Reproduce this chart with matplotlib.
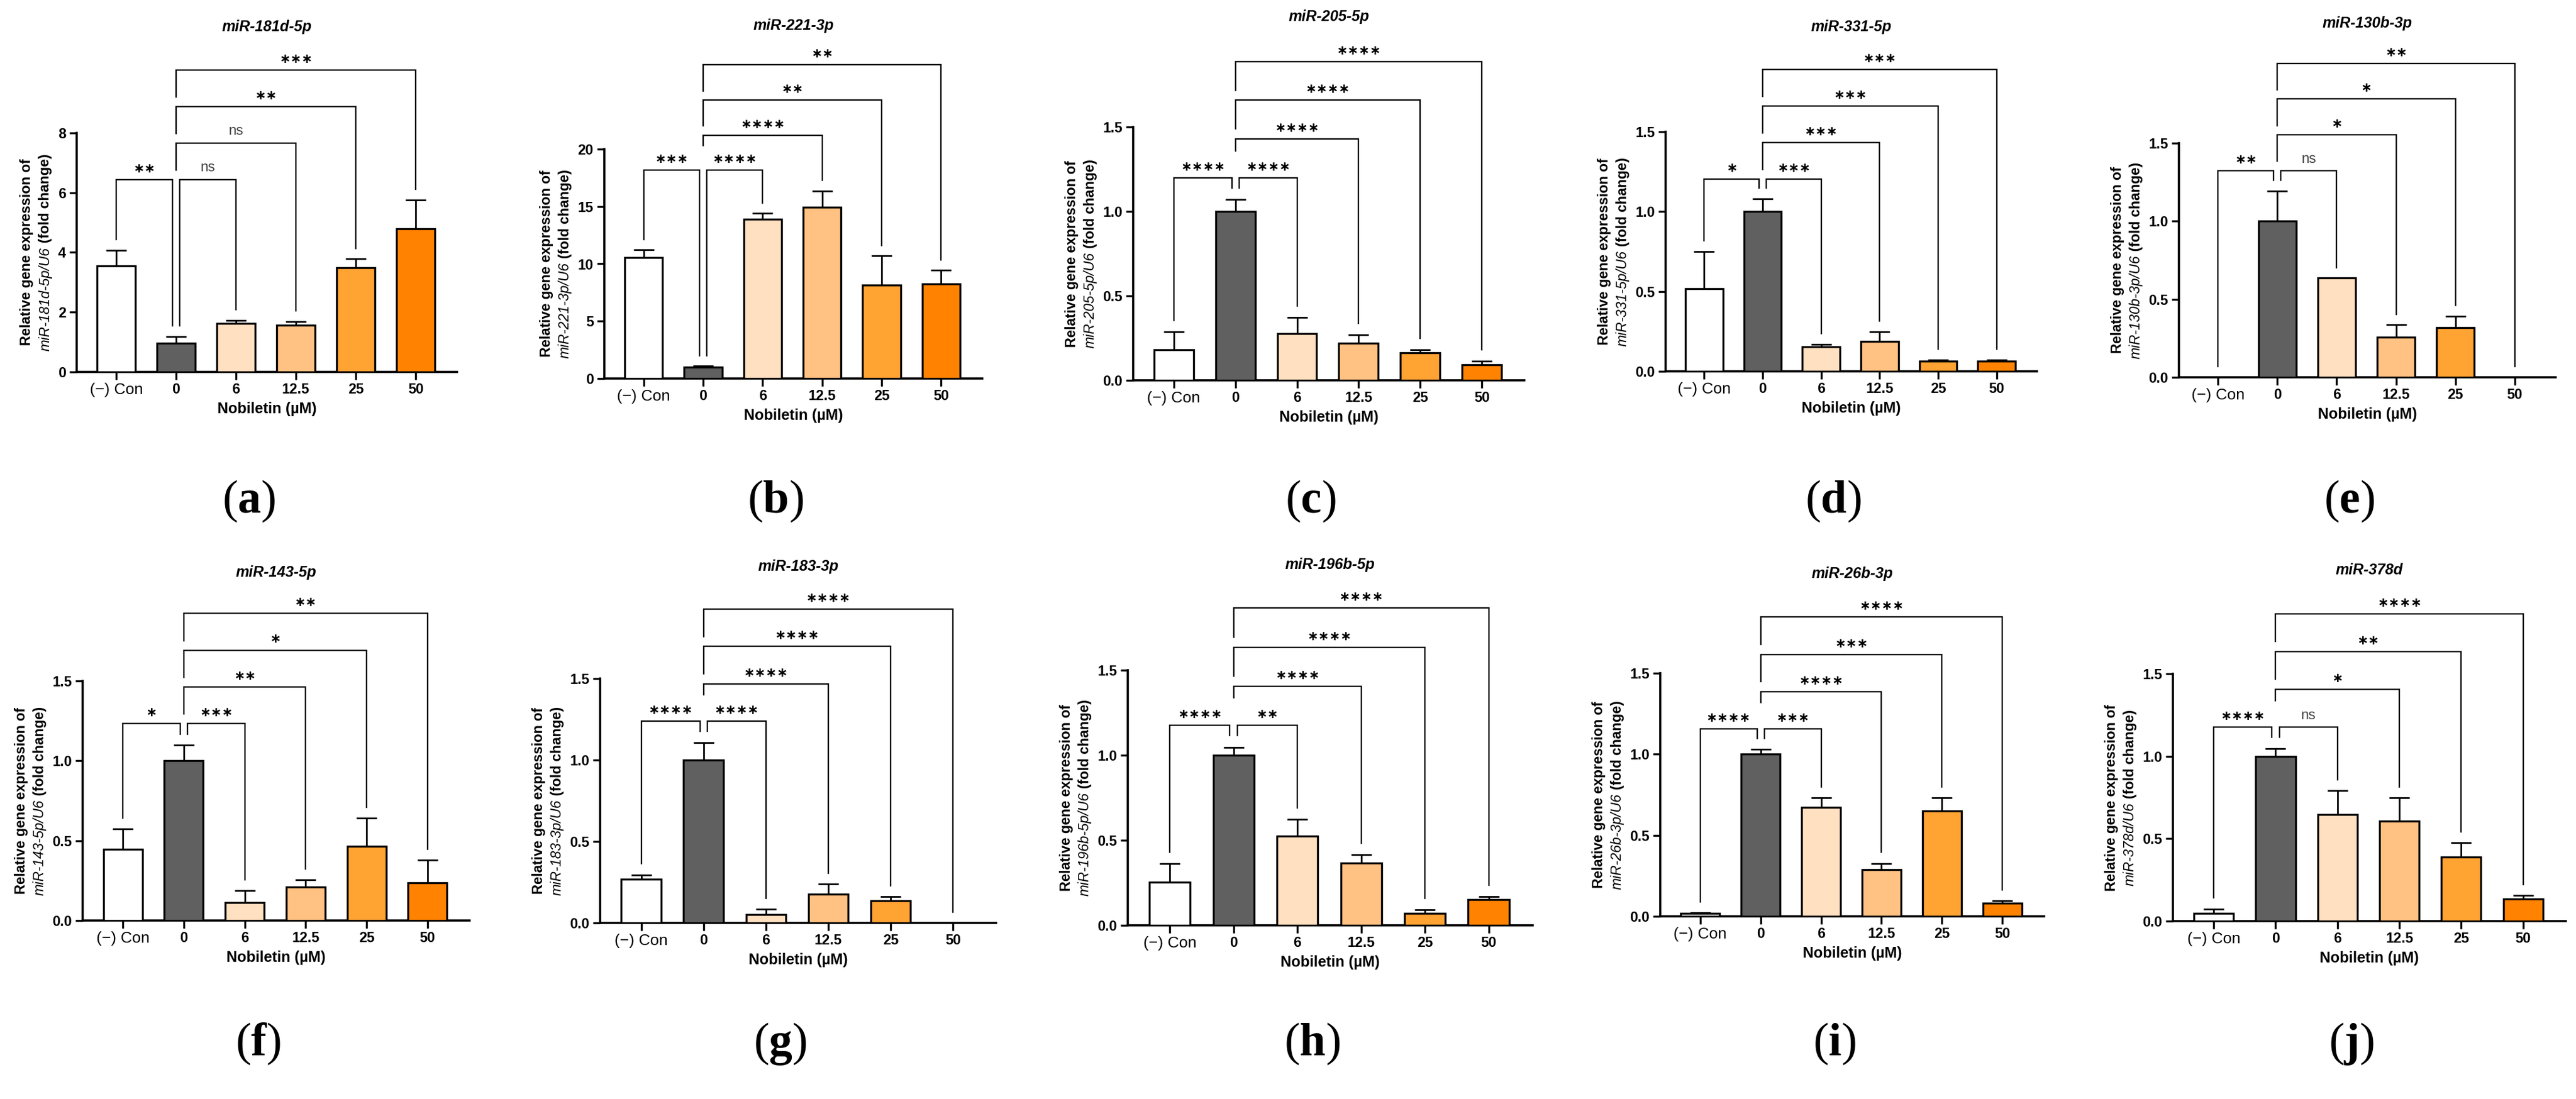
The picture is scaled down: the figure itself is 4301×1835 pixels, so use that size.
import matplotlib.pyplot as plt
import numpy as np

plt.rcParams['font.family'] = ['Liberation Sans', 'DejaVu Sans']
plt.rcParams['mathtext.fontset'] = 'custom'
plt.rcParams['mathtext.bf'] = 'Liberation Serif:bold'
plt.rcParams['mathtext.rm'] = 'Liberation Serif'

categories = ['(−) Con', '0', '6', '12.5', '25', '50']
bar_colors = ['#ffffff', '#606060', '#ffe0c0', '#ffc283', '#ffa333', '#ff8300']
tags = ['a', 'b', 'c', 'd', 'e', 'f', 'g', 'h', 'i', 'j']

mirnas = ['miR-181d-5p', 'miR-221-3p', 'miR-205-5p', 'miR-331-5p', 'miR-130b-3p',
          'miR-143-5p', 'miR-183-3p', 'miR-196b-5p', 'miR-26b-3p', 'miR-378d']

# mean and upper error (fold change) per miRNA, order as categories
mir181d_mean = [3.55, 0.97, 1.62, 1.57, 3.48, 4.80]
mir181d_err = [0.52, 0.21, 0.11, 0.12, 0.30, 0.95]
mir221_mean = [10.56, 1.0, 13.9, 14.96, 8.14, 8.23]
mir221_err = [0.66, 0.08, 0.5, 1.4, 2.56, 1.2]
mir205_mean = [0.18, 1.0, 0.277, 0.219, 0.164, 0.092]
mir205_err = [0.107, 0.07, 0.096, 0.051, 0.018, 0.023]
mir331_mean = [0.517, 1.0, 0.152, 0.188, 0.063, 0.063]
mir331_err = [0.234, 0.08, 0.015, 0.06, 0.01, 0.01]
mir130b_mean = [np.nan, 1.0, 0.636, 0.257, 0.319, np.nan]
mir130b_err = [np.nan, 0.195, 0.0, 0.08, 0.073, np.nan]
mir143_mean = [0.448, 1.0, 0.113, 0.21, 0.465, 0.236]
mir143_err = [0.126, 0.10, 0.075, 0.045, 0.178, 0.143]
mir183_mean = [0.267, 1.0, 0.051, 0.176, 0.136, np.nan]
mir183_err = [0.028, 0.108, 0.034, 0.062, 0.025, np.nan]
mir196b_mean = [0.254, 1.0, 0.523, 0.365, 0.071, 0.152]
mir196b_err = [0.107, 0.047, 0.10, 0.051, 0.02, 0.018]
mir26b_mean = [0.017, 1.0, 0.674, 0.287, 0.649, 0.083]
mir26b_err = [0.006, 0.03, 0.058, 0.039, 0.083, 0.013]
mir378d_mean = [0.048, 1.0, 0.646, 0.605, 0.387, 0.134]
mir378d_err = [0.025, 0.046, 0.144, 0.142, 0.088, 0.021]

# significance: Con-0, 0-6, 0-12.5, 0-25, 0-50
mir181d_sig = ['**', 'ns', 'ns', '**', '***']
mir221_sig = ['***', '****', '****', '**', '**']
mir205_sig = ['****', '****', '****', '****', '****']
mir331_sig = ['*', '***', '***', '***', '***']
mir130b_sig = ['**', 'ns', '*', '*', '**']
mir143_sig = ['*', '***', '**', '*', '**']
mir183_sig = ['****', '****', '****', '****', '****']
mir196b_sig = ['****', '**', '****', '****', '****']
mir26b_sig = ['****', '***', '****', '***', '****']
mir378d_sig = ['****', 'ns', '*', '**', '****']

means = [mir181d_mean, mir221_mean, mir205_mean, mir331_mean, mir130b_mean,
         mir143_mean, mir183_mean, mir196b_mean, mir26b_mean, mir378d_mean]
errs = [mir181d_err, mir221_err, mir205_err, mir331_err, mir130b_err,
        mir143_err, mir183_err, mir196b_err, mir26b_err, mir378d_err]
sigs = [mir181d_sig, mir221_sig, mir205_sig, mir331_sig, mir130b_sig,
        mir143_sig, mir183_sig, mir196b_sig, mir26b_sig, mir378d_sig]
yticks = [[0, 2, 4, 6, 8], [0, 5, 10, 15, 20]] + [[0.0, 0.5, 1.0, 1.5]] * 8

# layout in pixels: left, right, y of zero line, y of top tick
W, H = 4301, 1835
boxes = [(128, 763, 621, 222), (1009, 1640, 632, 249), (1892, 2545, 635, 212),
         (2781, 3401, 620, 220), (3638, 4267, 630, 239),
         (138, 784, 1537, 1137), (1002, 1663, 1541, 1133), (1883, 2559, 1545, 1119),
         (2772, 3413, 1530, 1124), (3628, 4284, 1538, 1125)]
title_y = [45, 43, 28, 45, 39, 956, 946, 943, 958, 952]
first_level = [6.44, 18.16, 1.199, 1.203, 1.323, 1.234, 1.239, 1.176, 1.157, 1.176]

fig = plt.figure(figsize=(W / 100, H / 100), dpi=100)
x = np.arange(len(categories))
axes = []

for k in range(10):
    l, r, y0, yt = boxes[k]
    ax = fig.add_axes([l / W, 1 - y0 / H, (r - l) / W, (y0 - yt) / H])
    axes.append(ax)
    m = np.array(means[k], dtype=float)
    e = np.array(errs[k], dtype=float)
    ymax = yticks[k][-1]

    for i in x:
        if not np.isnan(m[i]):
            ax.bar(i, m[i], width=0.64, color=bar_colors[i], edgecolor='black',
                   linewidth=2.4, zorder=3)
    ax.errorbar(x, m, yerr=[np.zeros_like(e), e], fmt='none', ecolor='black',
                elinewidth=2.0, capsize=12, capthick=2.0, zorder=2)

    ax.set_xlim(-0.66, 5.69)
    ax.set_ylim(0, ymax)
    ax.set_yticks(yticks[k])
    if ymax > 5:
        ax.set_yticklabels([f'{v:g}' for v in yticks[k]])
    else:
        ax.set_yticklabels([f'{v:.1f}' for v in yticks[k]])
    ax.set_xticks(x)
    ax.set_xticklabels(categories)
    for j, t in enumerate(ax.get_xticklabels()):
        if j == 0:
            t.set_family(['Liberation Sans Narrow', 'Liberation Sans'])
            t.set_fontsize(19)
        else:
            t.set_fontweight('bold')
            t.set_fontsize(17)
    for t in ax.get_yticklabels():
        t.set_fontweight('bold')
        t.set_fontsize(17)
    ax.tick_params(direction='out', length=9, width=2.4, pad=4)
    for s in ['top', 'right']:
        ax.spines[s].set_visible(False)
    for s in ['left', 'bottom']:
        ax.spines[s].set_linewidth(2.6)
    ax.set_xlabel('Nobiletin (µM)', fontsize=18, fontweight='bold', labelpad=6)

    # significance brackets
    top = np.where(np.isnan(m), 0, m + np.nan_to_num(e))
    gap = 0.045 * ymax
    step = 0.153 * ymax
    d = 0.06
    short = max(len(s) for s in sigs[k][:2]) >= 4
    pairs = [(0, 1), (1, 2), (1, 3), (1, 4), (1, 5)]
    levels = [0, 0, 1, 2, 3]
    for (a, b), lev, lab in zip(pairs, levels, sigs[k]):
        L = first_level[k] + lev * step
        if lev == 0:
            xa = a if a == 0 else a + d
            xb = b - d if a == 0 else b
            ya = top[a] + gap
        else:
            xa, xb = a, b
            leg = 0.046 * ymax if (lev == 1 and short) else 0.113 * ymax
            ya = L - leg
        yb = top[b] + gap
        ax.plot([xa, xa, xb, xb], [ya, L, L, yb], color='black', lw=1.7,
                clip_on=False, solid_joinstyle='miter', zorder=4)
        if lab == 'ns':
            ax.annotate(lab, ((xa + xb) / 2, L), xytext=(0, 14), textcoords='offset points',
                        ha='center', va='center', fontsize=17, color='#444444',
                        annotation_clip=False)
        else:
            ax.annotate('∗' * len(lab), ((xa + xb) / 2, L), xytext=(0, 13),
                        textcoords='offset points', ha='center', va='center',
                        fontsize=16, fontweight='bold', family='DejaVu Sans',
                        annotation_clip=False)

    fig.text((l + r) / 2 / W, 1 - title_y[k] / H, mirnas[k], ha='center', va='center',
             fontsize=18, fontweight='bold', style='italic')
    ly = 837 if k < 5 else 1743
    fig.text(((l + r) / 2 - 30) / W, 1 - ly / H, '($\\mathbf{' + tags[k] + '}$)',
             ha='center', va='center', fontsize=56, family='Liberation Serif')

# two-line y labels with italic gene names
fig.canvas.draw()
rend = fig.canvas.get_renderer()
for k, ax in enumerate(axes):
    left = min(t.get_window_extent(rend).x0 for t in ax.get_yticklabels())
    bb = ax.get_window_extent(rend)
    yc = (bb.y0 + bb.y1) / 2
    x2 = left - 21
    x1 = x2 - 31
    fig.text(x1 / W, yc / H, 'Relative gene expression of', rotation=90, ha='center',
             va='center', fontsize=17, fontweight='bold')
    t_it = fig.text(x2 / W, 0, mirnas[k] + '/U6', rotation=90, ha='center', va='bottom',
                    fontsize=17, style='italic')
    t_rm = fig.text(x2 / W, 0, ' (fold change)', rotation=90, ha='center', va='bottom',
                    fontsize=17, fontweight='bold')
    h1 = t_it.get_window_extent(rend).height
    h2 = t_rm.get_window_extent(rend).height
    ys = yc - (h1 + h2) / 2
    t_it.set_y(ys / H)
    t_rm.set_y((ys + h1) / H)

fig.savefig('out.png', dpi=100)
